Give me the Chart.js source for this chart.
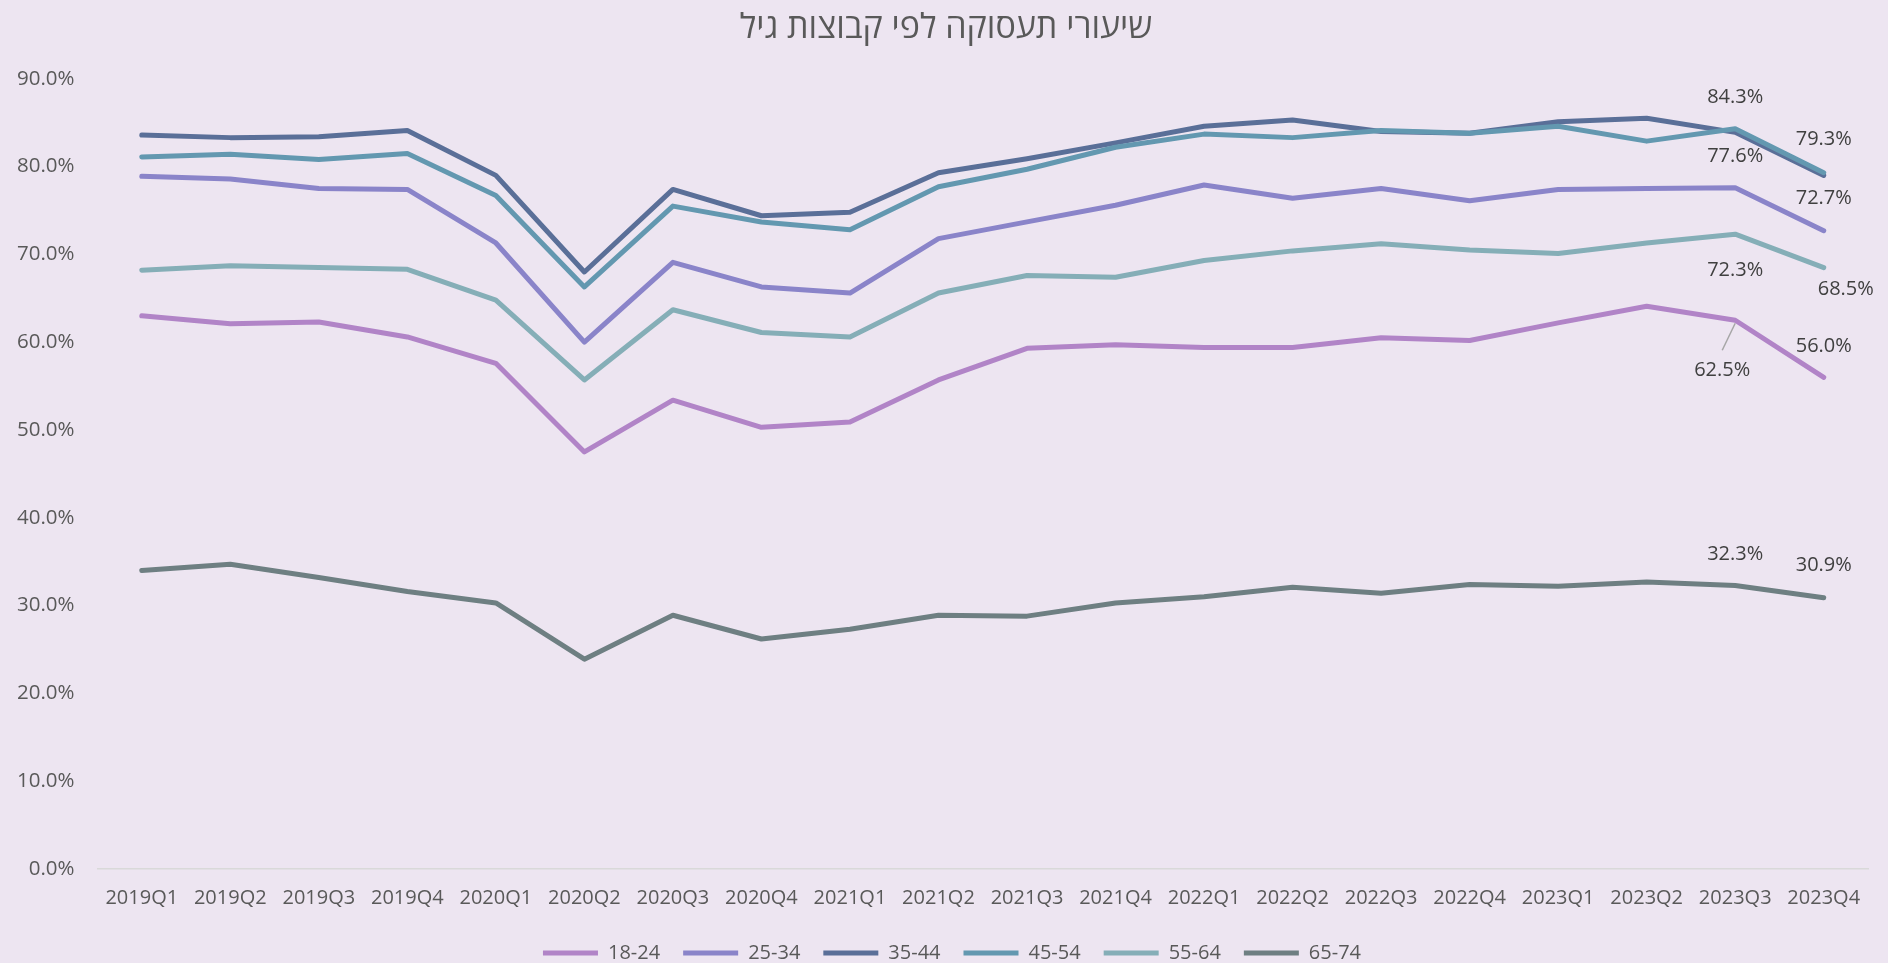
<!DOCTYPE html>
<html>
<head>
<meta charset="utf-8">
<script src="https://cdn.jsdelivr.net/npm/chart.js@4.4.1/dist/chart.umd.min.js"></script>
<style>
  html, body { margin: 0; padding: 0; background: #EDE5F1; }
  #wrap { width: 1888px; height: 963px; }
</style>
</head>
<body>
<div id="wrap"><canvas id="chart" width="1888" height="963"></canvas></div>
<script>
const quarters = [
  '2019Q1', '2019Q2', '2019Q3', '2019Q4',
  '2020Q1', '2020Q2', '2020Q3', '2020Q4',
  '2021Q1', '2021Q2', '2021Q3', '2021Q4',
  '2022Q1', '2022Q2', '2022Q3', '2022Q4',
  '2023Q1', '2023Q2', '2023Q3', '2023Q4'
];

const ages18to24 = [63.0, 62.1, 62.3, 60.6, 57.6, 47.5, 53.4, 50.3, 50.9, 55.7, 59.3, 59.7, 59.4, 59.4, 60.5, 60.2, 62.2, 64.1, 62.5, 56.0];
const ages25to34 = [78.9, 78.6, 77.5, 77.4, 71.3, 60.0, 69.1, 66.3, 65.6, 71.8, 73.7, 75.6, 77.9, 76.4, 77.5, 76.1, 77.4, 77.5, 77.6, 72.7];
const ages35to44 = [83.6, 83.3, 83.4, 84.1, 79.0, 68.0, 77.4, 74.4, 74.8, 79.3, 80.9, 82.7, 84.6, 85.3, 84.0, 83.8, 85.1, 85.5, 83.9, 79.0];
const ages45to54 = [81.1, 81.4, 80.8, 81.5, 76.7, 66.3, 75.5, 73.7, 72.8, 77.7, 79.7, 82.2, 83.7, 83.3, 84.1, 83.8, 84.6, 82.9, 84.3, 79.3];
const ages55to64 = [68.2, 68.7, 68.5, 68.3, 64.8, 55.7, 63.7, 61.1, 60.6, 65.6, 67.6, 67.4, 69.3, 70.4, 71.2, 70.5, 70.1, 71.3, 72.3, 68.5];
const ages65to74 = [34.0, 34.7, 33.2, 31.6, 30.3, 23.9, 28.9, 26.2, 27.3, 28.9, 28.8, 30.3, 31.0, 32.1, 31.4, 32.4, 32.2, 32.7, 32.3, 30.9];

const seriesNames = ['18-24', '25-34', '35-44', '45-54', '55-64', '65-74'];
const seriesValues = [ages18to24, ages25to34, ages35to44, ages45to54, ages55to64, ages65to74];
const seriesColors = ['#B184C7', '#8A84C9', '#5A6F98', '#6398B0', '#85AEB7', '#6E7F82'];

// where the value labels go (only the last two quarters carry them)
const valueLabels = {
  '18-24': [{ i: 18, dx: -13, dy: 50, leader: true }, { i: 19, dx: 0, dy: -31 }],
  '25-34': [{ i: 18, dx: 0, dy: -31 }, { i: 19, dx: 0, dy: -32 }],
  '45-54': [{ i: 18, dx: 0, dy: -32 }, { i: 19, dx: 0, dy: -33 }],
  '55-64': [{ i: 18, dx: 0, dy: 36 }, { i: 19, dx: 22, dy: 22 }],
  '65-74': [{ i: 18, dx: 0, dy: -31 }, { i: 19, dx: 0, dy: -32 }]
};

const FONT = '"Open Sans", "Noto Sans", sans-serif';

const valueLabelPlugin = {
  id: 'valueLabels',
  afterDatasetsDraw(chart) {
    const ctx = chart.ctx;
    ctx.save();
    ctx.font = '20px ' + FONT;
    ctx.textAlign = 'center';
    ctx.textBaseline = 'middle';
    chart.data.datasets.forEach((ds, di) => {
      const spots = valueLabels[ds.label];
      if (!spots) return;
      const meta = chart.getDatasetMeta(di);
      spots.forEach(s => {
        const pt = meta.data[s.i];
        const tx = pt.x + s.dx;
        const ty = pt.y + s.dy;
        if (s.leader) {
          ctx.strokeStyle = '#A6A6A6';
          ctx.lineWidth = 1.5;
          ctx.beginPath();
          ctx.moveTo(pt.x, pt.y + 3);
          ctx.lineTo(tx, ty - 20);
          ctx.stroke();
        }
        ctx.fillStyle = '#404040';
        ctx.fillText(ds.data[s.i].toFixed(1) + '%', tx, ty);
      });
    });
    ctx.restore();
  }
};

// nudge title and legend to sit where the original has them
const nudgeBoxes = {
  id: 'nudgeBoxes',
  afterLayout(chart) {
    chart.titleBlock.left += 11;
    chart.titleBlock.right += 11;
    chart.legend.left += 17;
    chart.legend.right += 17;
  }
};

const datasets = seriesNames.map((name, i) => ({
  label: name,
  data: seriesValues[i],
  borderColor: seriesColors[i],
  backgroundColor: seriesColors[i],
  borderWidth: 5,
  borderCapStyle: 'round',
  borderJoinStyle: 'round',
  pointRadius: 0,
  pointHoverRadius: 0,
  tension: 0,
  order: seriesNames.length - i
}));

new Chart(document.getElementById('chart'), {
  type: 'line',
  data: { labels: quarters, datasets },
  options: {
    responsive: false,
    animation: false,
    events: [],
    layout: { padding: { left: 2, right: 20, top: 4, bottom: -10 } },
    scales: {
      x: {
        offset: true,
        grid: { display: false },
        border: { display: true, color: '#D9D9D9', width: 1.5 },
        ticks: {
          color: '#595959',
          font: { family: FONT, size: 20 },
          maxRotation: 0,
          autoSkip: false,
          padding: 9.5
        }
      },
      y: {
        min: 0,
        max: 90,
        grid: { display: false },
        border: { display: false },
        ticks: {
          stepSize: 10,
          color: '#595959',
          font: { family: FONT, size: 20.5 },
          padding: 15,
          callback: v => v.toFixed(1) + '%'
        }
      }
    },
    plugins: {
      title: {
        display: true,
        text: 'שיעורי תעסוקה לפי קבוצות גיל',
        color: '#595959',
        font: { family: FONT, size: 34, weight: 'normal' },
        padding: { top: 4, bottom: 30 }
      },
      legend: {
        position: 'bottom',
        labels: {
          color: '#595959',
          font: { family: FONT, size: 20 },
          usePointStyle: true,
          pointStyle: 'line',
          pointStyleWidth: 55,
          boxHeight: 5,
          padding: 23,
          sort: (a, b) => a.datasetIndex - b.datasetIndex
        }
      },
      tooltip: { enabled: false }
    }
  },
  plugins: [valueLabelPlugin, nudgeBoxes]
});
</script>
</body>
</html>
